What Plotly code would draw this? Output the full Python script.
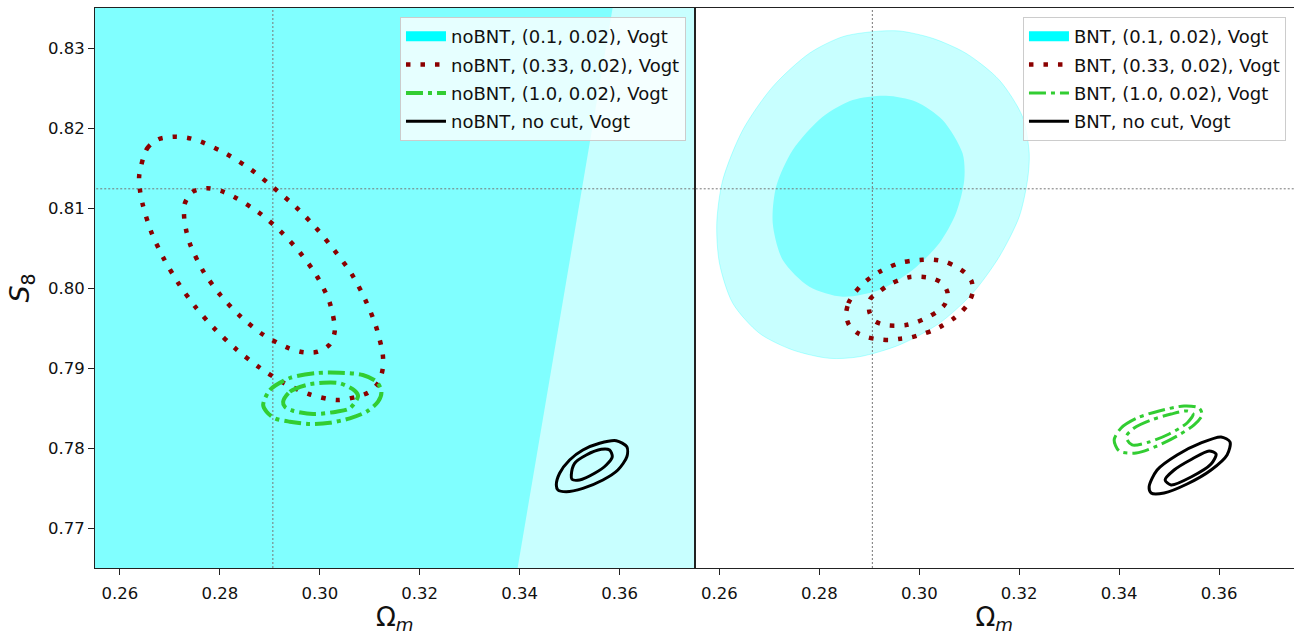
import plotly.graph_objects as go
from plotly.subplots import make_subplots

# ---------------- axes / reference values ----------------
x_range = [0.255, 0.375]
y_range = [0.765, 0.835]
x_ticks = [0.26, 0.28, 0.30, 0.32, 0.34, 0.36]
y_ticks = [0.77, 0.78, 0.79, 0.80, 0.81, 0.82, 0.83]
fid_om = 0.2906
fid_s8 = 0.8124

left_labels = ["noBNT, (0.1, 0.02), Vogt", "noBNT, (0.33, 0.02), Vogt",
               "noBNT, (1.0, 0.02), Vogt", "noBNT, no cut, Vogt"]
right_labels = ["BNT, (0.1, 0.02), Vogt", "BNT, (0.33, 0.02), Vogt",
                "BNT, (1.0, 0.02), Vogt", "BNT, no cut, Vogt"]

# ---------------- LEFT panel (noBNT) contour vertices ----------------
# (0.1, 0.02): contours extend beyond the plotted window
L_cyan_2s_x = [0.20, 0.40, 0.40, 0.20]
L_cyan_2s_y = [0.74, 0.74, 0.86, 0.86]
L_cyan_1s_x = [0.20, 0.3654, 0.3328, 0.20]
L_cyan_1s_y = [0.86, 0.86, 0.74, 0.74]

# (0.33, 0.02)
L_red_out_x = [0.26386, 0.26546, 0.26766, 0.27054, 0.2734, 0.2762, 0.28134, 0.28626,
               0.29074, 0.2952, 0.2992, 0.30286, 0.30634, 0.30906, 0.3112, 0.3126,
               0.3126, 0.31174, 0.30966, 0.30366, 0.2978, 0.29234, 0.2876, 0.28306,
               0.27886, 0.27506, 0.27166, 0.26874, 0.26626, 0.26454, 0.264]
L_red_out_y = [0.81413, 0.81746, 0.81859, 0.81891, 0.81879, 0.81829, 0.81675, 0.81479,
               0.81254, 0.81013, 0.80754, 0.80475, 0.80179, 0.79859, 0.79529, 0.79171,
               0.78991, 0.78816, 0.78691, 0.786, 0.78675, 0.78829, 0.79021, 0.79246,
               0.79496, 0.79766, 0.80063, 0.80371, 0.807, 0.81046, 0.81225]
L_red_in_x = [0.27286, 0.27294, 0.27446, 0.27734, 0.2802, 0.2828, 0.28774, 0.29214,
              0.29606, 0.2994, 0.30194, 0.303, 0.302, 0.29966, 0.2968, 0.29386,
              0.28874, 0.2842, 0.2802, 0.2768, 0.2742, 0.27334]
L_red_in_y = [0.80871, 0.8105, 0.812, 0.81246, 0.81213, 0.81141, 0.80946, 0.80709,
              0.80441, 0.8015, 0.79825, 0.79466, 0.79296, 0.79204, 0.79196, 0.79246,
              0.79413, 0.79641, 0.79904, 0.80196, 0.80521, 0.80696]

# (1.0, 0.02)
L_green_out_x = [0.28866, 0.29, 0.294, 0.2996, 0.304, 0.3086, 0.31134, 0.31234,
                 0.31166, 0.30934, 0.306, 0.302, 0.298, 0.294, 0.291, 0.28934]
L_green_out_y = [0.78538, 0.78725, 0.78875, 0.78938, 0.78941, 0.78913, 0.78829, 0.78704,
                 0.78579, 0.78454, 0.78371, 0.78316, 0.783, 0.78329, 0.78371, 0.78454]
L_green_in_x = [0.29266, 0.294, 0.29734, 0.30066, 0.304, 0.307, 0.30766, 0.306,
                0.30334, 0.29866, 0.29466, 0.293]
L_green_in_y = [0.78579, 0.78704, 0.78788, 0.78816, 0.78809, 0.78716, 0.7865, 0.78496,
                0.78454, 0.78425, 0.78466, 0.78516]

# no cut
L_black_out_x = [0.34734, 0.348, 0.35, 0.35266, 0.356, 0.35934, 0.36146, 0.36146,
                 0.35966, 0.35666, 0.35266, 0.34934, 0.34766]
L_black_out_y = [0.77538, 0.77684, 0.7785, 0.77975, 0.78059, 0.78091, 0.78016, 0.77891,
                 0.77725, 0.776, 0.77496, 0.77454, 0.77475]
L_black_in_x = [0.35034, 0.351, 0.35334, 0.35634, 0.358, 0.35854, 0.35734, 0.355,
                0.352, 0.35046]
L_black_in_y = [0.77663, 0.77809, 0.77913, 0.77984, 0.77975, 0.77891, 0.77788, 0.77684,
                0.776, 0.77609]

# ---------------- RIGHT panel (BNT) contour vertices ----------------
R_cyan_2s_x = [0.29066, 0.296, 0.30266, 0.30934, 0.316, 0.32066, 0.322, 0.32166,
               0.32, 0.316, 0.31066, 0.304, 0.296, 0.288, 0.282, 0.27466,
               0.268, 0.26266, 0.26, 0.25946, 0.26066, 0.26466, 0.27066, 0.278, 0.28466]
R_cyan_2s_y = [0.83204, 0.83213, 0.83121, 0.82934, 0.826, 0.82141, 0.81684, 0.8135,
               0.80891, 0.80391, 0.79934, 0.79559, 0.79288, 0.79141, 0.79121, 0.79225,
               0.79434, 0.79809, 0.80309, 0.80809, 0.8135, 0.81975, 0.82516, 0.82934, 0.83141]
R_cyan_1s_x = [0.29334, 0.29934, 0.30466, 0.30866, 0.309, 0.30734, 0.304, 0.29866,
               0.292, 0.28466, 0.278, 0.27266, 0.27066, 0.27134, 0.27466, 0.28066, 0.28666]
R_cyan_1s_y = [0.82404, 0.82329, 0.821, 0.81684, 0.8135, 0.80934, 0.80559, 0.80225,
               0.79975, 0.79891, 0.80016, 0.8035, 0.80809, 0.81266, 0.81725, 0.82141, 0.8235]

R_red_out_x = [0.28534, 0.2858, 0.287, 0.28846, 0.2902, 0.29206, 0.29414, 0.29626,
               0.29846, 0.30074, 0.30294, 0.30514, 0.30726, 0.30914, 0.31046, 0.31066,
               0.3098, 0.3084, 0.30666, 0.30474, 0.30274, 0.3006, 0.29846, 0.29626,
               0.294, 0.2918, 0.2896, 0.28754, 0.28594]
R_red_out_y = [0.79663, 0.79809, 0.79934, 0.80038, 0.80129, 0.80204, 0.80266, 0.80316,
               0.80341, 0.80354, 0.80354, 0.80329, 0.80271, 0.80191, 0.80084, 0.79938,
               0.79809, 0.797, 0.79609, 0.79534, 0.79471, 0.79425, 0.79384, 0.79366,
               0.7935, 0.79359, 0.79384, 0.79441, 0.79538]
R_red_in_x = [0.29, 0.29014, 0.292, 0.29386, 0.296, 0.2982, 0.3004, 0.3026,
              0.3046, 0.30566, 0.30514, 0.30354, 0.30166, 0.29954, 0.29734, 0.29514,
              0.29314, 0.291]
R_red_in_y = [0.79704, 0.79859, 0.79954, 0.80038, 0.801, 0.80138, 0.80141, 0.80121,
              0.80059, 0.79938, 0.798, 0.79704, 0.79634, 0.79575, 0.79538, 0.79529,
              0.79538, 0.79591]

R_green_out_x = [0.339, 0.3404, 0.3436, 0.348, 0.353, 0.356, 0.3566, 0.355,
                 0.3516, 0.3476, 0.3434, 0.34]
R_green_out_y = [0.781, 0.7825, 0.78375, 0.78463, 0.78525, 0.785, 0.78413, 0.78288,
                 0.7815, 0.78025, 0.77938, 0.77963]
R_green_in_x = [0.3414, 0.343, 0.3464, 0.3504, 0.3536, 0.3548, 0.3536, 0.35,
                0.346, 0.3426]
R_green_in_y = [0.78138, 0.7825, 0.7835, 0.78425, 0.78463, 0.78425, 0.78313, 0.78175,
                0.78075, 0.78038]

R_black_out_x = [0.346, 0.3476, 0.3516, 0.3564, 0.3604, 0.3622, 0.3616, 0.3584,
                 0.3536, 0.349, 0.3464]
R_black_out_y = [0.77513, 0.77725, 0.77913, 0.78063, 0.78138, 0.78075, 0.77913, 0.77725,
                 0.7755, 0.77438, 0.77438]
R_black_in_x = [0.3492, 0.351, 0.3546, 0.358, 0.3594, 0.3584, 0.3544, 0.3504]
R_black_in_y = [0.776, 0.77725, 0.77863, 0.77963, 0.77925, 0.778, 0.77638, 0.77538]

# ---------------- styles ----------------
FONT = "DejaVu Sans"
CYAN_LEG = "#00FFFF"
CYAN_1S = "#80FFFF"
CYAN_2S = "#C8FFFF"
RED = "#8B0000"
GREEN = "#32CD32"
BLACK = "#000000"
RED_DASH = "4.5px,10px"
GREEN_DASH = "17px,5px,4px,5px"


def closed(xs, ys):
    return list(xs) + [xs[0]], list(ys) + [ys[0]]


fig = make_subplots(rows=1, cols=2, shared_yaxes=True, horizontal_spacing=0)


def add_fill(xs, ys, color, col, edge=None, spline=True):
    cx, cy = closed(xs, ys)
    fig.add_trace(go.Scatter(
        x=cx, y=cy, mode="lines", fill="toself", fillcolor=color,
        line=dict(color=edge if edge else color, width=1 if edge else 0,
                  shape="spline" if spline else "linear", smoothing=0.8),
        showlegend=False, hoverinfo="skip"), row=1, col=col)


def add_line(xs, ys, color, width, dash, col, name, legend, show):
    cx, cy = closed(xs, ys)
    fig.add_trace(go.Scatter(
        x=cx, y=cy, mode="lines", name=name, legend=legend, showlegend=show,
        legendgroup=legend + name,
        line=dict(color=color, width=width, dash=dash, shape="spline", smoothing=0.8),
        hoverinfo="skip"), row=1, col=col)


def add_fid(col):
    fig.add_trace(go.Scatter(x=[fid_om, fid_om], y=[0.70, 0.90], mode="lines",
                             line=dict(color="#777777", width=1, dash="2px,2px"),
                             showlegend=False, hoverinfo="skip"), row=1, col=col)
    fig.add_trace(go.Scatter(x=[0.20, 0.42], y=[fid_s8, fid_s8], mode="lines",
                             line=dict(color="#777777", width=1, dash="2px,2px"),
                             showlegend=False, hoverinfo="skip"), row=1, col=col)


def add_patch_legend(name, legend, col):
    # legend-only entry: a thick cyan bar acts as the filled patch
    fig.add_trace(go.Scatter(x=[None], y=[None], mode="lines",
                             line=dict(color=CYAN_LEG, width=13),
                             name=name, legend=legend, legendgroup=legend + name,
                             showlegend=True, hoverinfo="skip"),
                  row=1, col=col)


# left panel
add_fill(L_cyan_2s_x, L_cyan_2s_y, CYAN_2S, 1, spline=False)
add_fill(L_cyan_1s_x, L_cyan_1s_y, CYAN_1S, 1, spline=False)
add_fid(1)
add_patch_legend(left_labels[0], "legend", 1)
add_line(L_red_out_x, L_red_out_y, RED, 4.5, RED_DASH, 1, left_labels[1], "legend", True)
add_line(L_red_in_x, L_red_in_y, RED, 4.5, RED_DASH, 1, left_labels[1], "legend", False)
add_line(L_green_out_x, L_green_out_y, GREEN, 4, GREEN_DASH, 1, left_labels[2], "legend", True)
add_line(L_green_in_x, L_green_in_y, GREEN, 4, GREEN_DASH, 1, left_labels[2], "legend", False)
add_line(L_black_out_x, L_black_out_y, BLACK, 3, "solid", 1, left_labels[3], "legend", True)
add_line(L_black_in_x, L_black_in_y, BLACK, 3, "solid", 1, left_labels[3], "legend", False)

# right panel
add_fill(R_cyan_2s_x, R_cyan_2s_y, CYAN_2S, 2, edge="rgba(0,255,255,0.25)")
add_fill(R_cyan_1s_x, R_cyan_1s_y, CYAN_1S, 2)
add_fid(2)
add_patch_legend(right_labels[0], "legend2", 2)
add_line(R_red_out_x, R_red_out_y, RED, 4.5, RED_DASH, 2, right_labels[1], "legend2", True)
add_line(R_red_in_x, R_red_in_y, RED, 4.5, RED_DASH, 2, right_labels[1], "legend2", False)
add_line(R_green_out_x, R_green_out_y, GREEN, 3, GREEN_DASH, 2, right_labels[2], "legend2", True)
add_line(R_green_in_x, R_green_in_y, GREEN, 3, GREEN_DASH, 2, right_labels[2], "legend2", False)
add_line(R_black_out_x, R_black_out_y, BLACK, 3, "solid", 2, right_labels[3], "legend2", True)
add_line(R_black_in_x, R_black_in_y, BLACK, 3, "solid", 2, right_labels[3], "legend2", False)

axis_common = dict(showline=True, mirror=True, linecolor="#222222", linewidth=1,
                   showgrid=False, zeroline=False, ticks="outside", ticklen=6,
                   tickwidth=1, tickcolor="#222222",
                   tickfont=dict(family=FONT, size=16.5, color="#111111"))

fig.update_xaxes(range=x_range, tickvals=x_ticks, tickformat=".2f",
                 ticklabelstandoff=4,
                 title=dict(text="Ω<sub><i>m</i></sub>",
                            font=dict(family=FONT, size=26, color="#111111"),
                            standoff=10),
                 **axis_common)
fig.update_yaxes(range=y_range, tickvals=y_ticks, tickformat=".2f", **axis_common)
fig.update_yaxes(title=dict(text="<i>S</i><sub>8</sub>",
                            font=dict(family=FONT, size=27, color="#111111"),
                            standoff=10), row=1, col=1)
fig.update_yaxes(showticklabels=False, ticks="", row=1, col=2)
fig.update_xaxes(domain=[0.0, 0.5], row=1, col=1)
fig.update_xaxes(domain=[0.5, 1.0], row=1, col=2)

legend_common = dict(bgcolor="rgba(255,255,255,0.8)", bordercolor="#cccccc", borderwidth=1,
                     font=dict(family=FONT, size=18, color="#111111"),
                     xanchor="right", yanchor="top", itemwidth=40, tracegroupgap=2,
                     traceorder="grouped")

fig.update_layout(
    width=1294, height=635,
    margin=dict(l=95, r=0, t=8, b=67),
    paper_bgcolor="white", plot_bgcolor="white",
    font=dict(family=FONT),
    legend=dict(x=0.4929, y=0.984, **legend_common),
    legend2=dict(x=0.9933, y=0.984, **legend_common),
)

fig.write_html("out.html", config={"displayModeBar": False},
               post_script="document.body.style.margin='0';")
